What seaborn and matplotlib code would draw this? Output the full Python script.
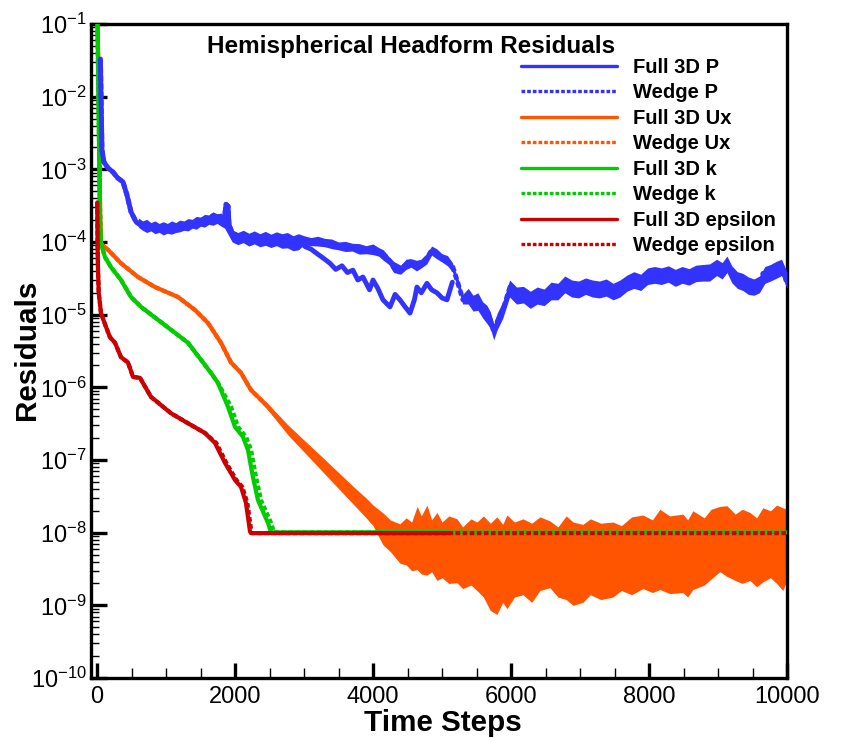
import numpy as np
import pandas as pd
import matplotlib
matplotlib.use("Agg")
import matplotlib.pyplot as plt
import seaborn as sns
from matplotlib.lines import Line2D
from matplotlib.ticker import FixedLocator, MultipleLocator, FuncFormatter, NullFormatter

# ---------------- data ----------------
p_start_x = [50, 72, 100, 160, 230, 300, 377, 435, 493, 565, 630, 695, 770, 840, 910, 985,
             1060, 1130, 1200, 1275, 1350, 1420, 1490, 1565, 1620, 1681, 1740, 1782, 1840,
             1870, 1900, 1913, 1956, 2043, 2130, 2217, 2320, 2434, 2540, 2652, 2720, 2797, 2870, 2941]
p_start_v = [3.3e-2, 1.85e-3, 1.26e-3, 1.04e-3, 9.2e-4, 7.6e-4, 6.7e-4, 4.4e-4, 2.6e-4, 1.9e-4,
             1.72e-4, 1.6e-4, 1.68e-4, 1.5e-4, 1.58e-4, 1.45e-4, 1.55e-4, 1.5e-4, 1.62e-4, 1.6e-4,
             1.75e-4, 1.8e-4, 1.95e-4, 2.1e-4, 2.05e-4, 2.3e-4, 2.15e-4, 2.2e-4, 1.9e-4, 3.3e-4,
             3.1e-4, 1.75e-4, 1.35e-4, 1.2e-4, 1.28e-4, 1.13e-4, 1.2e-4, 1.07e-4, 1.16e-4, 1.1e-4,
             1.02e-4, 1.05e-4, 9.5e-5, 1.0e-4]
p_full_x = [3020, 3100, 3200, 3300, 3376, 3460, 3550, 3630, 3709, 3780, 3854, 3950, 4000, 4070,
            4144, 4246, 4320, 4390, 4460, 4536, 4600, 4637, 4700, 4782, 4850, 4927, 5000, 5072, 5150]
p_full_v = [8.6e-5, 8.0e-5, 6.8e-5, 5.8e-5, 5.1e-5, 4.2e-5, 4.7e-5, 3.8e-5, 4.1e-5, 3.0e-5,
            3.3e-5, 2.2e-5, 3.0e-5, 2.3e-5, 1.6e-5, 1.28e-5, 1.9e-5, 1.6e-5, 1.3e-5, 1.05e-5,
            1.6e-5, 2.4e-5, 2.0e-5, 2.7e-5, 2.2e-5, 2.0e-5, 1.7e-5, 1.6e-5, 2.8e-5]
p_wedge_x = [3020, 3150, 3260, 3376, 3500, 3622, 3740, 3854, 3950, 4057, 4130, 4202, 4270, 4347,
             4434, 4536, 4620, 4724, 4790, 4854, 4930, 5014, 5090, 5158, 5231, 5303, 5380, 5448,
             5520, 5593, 5650, 5700, 5750, 5800, 5883, 5985, 6086, 6180, 6274, 6370, 6463, 6560,
             6650, 6753, 6870, 6999, 7100, 7200, 7289, 7400, 7535, 7650, 7767, 7890, 8013, 8140,
             8259, 8380, 8491, 8620, 8738, 8860, 8984, 9060, 9129, 9200, 9274, 9350, 9419, 9490,
             9564, 9651, 9720, 9796, 9870, 9926, 9990]
p_wedge_v = [1.08e-4, 1.0e-4, 1.03e-4, 9.7e-5, 9.0e-5, 8.5e-5, 8.6e-5, 7.8e-5, 8.0e-5, 7.8e-5,
             6.8e-5, 6.2e-5, 5.0e-5, 3.75e-5, 4.5e-5, 5.3e-5, 4.6e-5, 5.3e-5, 6.2e-5, 7.8e-5,
             6.8e-5, 6.0e-5, 5.4e-5, 4.5e-5, 2.7e-5, 1.6e-5, 1.8e-5, 1.45e-5, 1.5e-5, 1.16e-5,
             1.0e-5, 8.5e-6, 5.8e-6, 8.0e-6, 1.16e-5, 2.4e-5, 1.75e-5, 1.9e-5, 1.6e-5, 1.8e-5,
             1.75e-5, 2.1e-5, 2.0e-5, 2.7e-5, 2.3e-5, 2.2e-5, 2.6e-5, 2.3e-5, 2.2e-5, 2.4e-5,
             2.0e-5, 2.5e-5, 3.0e-5, 2.8e-5, 3.6e-5, 3.3e-5, 3.7e-5, 3.2e-5, 3.5e-5, 3.3e-5,
             3.9e-5, 3.5e-5, 4.5e-5, 4.0e-5, 5.0e-5, 3.6e-5, 3.0e-5, 2.8e-5, 2.4e-5, 2.6e-5,
             2.0e-5, 3.7e-5, 3.4e-5, 4.4e-5, 3.9e-5, 4.5e-5, 2.9e-5]
# noise envelope of the pressure residual
p_env_x = [600, 660, 720, 780, 840, 900, 960, 1020, 1080, 1140, 1200, 1260, 1320, 1380, 1440,
           1500, 1560, 1620, 1680, 1740, 1800, 1850,
           1960, 2040, 2120, 2200, 2280, 2360, 2440, 2520, 2600, 2680, 2760, 2840, 2920,
           3000, 3100, 3200, 3300, 3400, 3500, 3600, 3700, 3800, 3900, 4000, 4080, 4150, 4230,
           4300, 4400, 4480, 4550, 4630, 4700, 4780, 4850, 4920, 5000, 5080, 5150, 5230, 5300,
           5380, 5450, 5520, 5590, 5650, 5700, 5750, 5800, 5880, 5980,
           6080, 6180, 6280, 6380, 6480, 6580, 6680, 6780, 6880, 6980, 7080, 7180, 7280, 7380,
           7480, 7580, 7680, 7780, 7880, 7980, 8080, 8180, 8280, 8380, 8480, 8580, 8680, 8780,
           8880, 8980, 9060, 9130, 9200, 9280, 9360, 9440, 9520, 9600, 9680, 9760, 9840, 9920,
           10000]
p_env_hi = [2.15e-4, 1.95e-4, 2.05e-4, 1.85e-4, 1.95e-4, 1.8e-4, 1.9e-4, 1.8e-4, 1.95e-4,
            1.85e-4, 2.0e-4, 1.95e-4, 2.1e-4, 2.05e-4, 2.25e-4, 2.2e-4, 2.4e-4, 2.35e-4, 2.6e-4,
            2.45e-4, 2.5e-4, 2.2e-4,
            1.45e-4, 1.35e-4, 1.45e-4, 1.32e-4, 1.42e-4, 1.3e-4, 1.4e-4, 1.28e-4, 1.38e-4,
            1.3e-4, 1.35e-4, 1.22e-4, 1.3e-4,
            1.22e-4, 1.15e-4, 1.2e-4, 1.12e-4, 1.1e-4, 1.0e-4, 1.02e-4, 9.6e-5, 9.5e-5, 8.9e-5,
            9.4e-5, 8.4e-5, 7.8e-5, 6.3e-5, 5.4e-5, 4.8e-5, 5.8e-5, 5.9e-5, 5.6e-5, 5.8e-5,
            7.0e-5, 8.8e-5, 8.1e-5, 6.9e-5, 6.5e-5, 5.2e-5, 3.2e-5, 1.9e-5,
            2.3e-5, 1.85e-5, 2.0e-5, 1.5e-5, 1.35e-5, 1.1e-5, 7.5e-6, 1.05e-5, 1.5e-5, 3.0e-5,
            2.4e-5, 2.45e-5, 2.1e-5, 2.4e-5, 2.25e-5, 2.8e-5, 2.7e-5, 3.4e-5, 3.0e-5, 2.9e-5,
            3.2e-5, 3.0e-5, 2.9e-5, 3.1e-5, 2.7e-5, 3.0e-5, 3.5e-5, 3.9e-5, 3.6e-5, 4.4e-5,
            4.6e-5, 4.4e-5, 4.7e-5, 4.2e-5, 4.6e-5, 4.3e-5, 4.8e-5, 4.9e-5, 5.0e-5, 5.8e-5,
            5.2e-5, 6.4e-5, 4.7e-5, 3.9e-5, 3.7e-5, 3.3e-5, 3.1e-5, 3.4e-5, 4.6e-5, 4.9e-5,
            5.4e-5, 5.8e-5, 3.9e-5]
p_env_lo = [1.6e-4, 1.45e-4, 1.35e-4, 1.42e-4, 1.3e-4, 1.36e-4, 1.25e-4, 1.32e-4, 1.28e-4,
            1.35e-4, 1.38e-4, 1.45e-4, 1.42e-4, 1.55e-4, 1.5e-4, 1.65e-4, 1.6e-4, 1.75e-4,
            1.7e-4, 1.8e-4, 1.65e-4, 1.55e-4,
            1.0e-4, 9.2e-5, 9.8e-5, 8.8e-5, 9.4e-5, 8.6e-5, 9.0e-5, 8.4e-5, 8.9e-5, 8.2e-5,
            8.3e-5, 7.6e-5, 7.8e-5,
            9.2e-5, 8.9e-5, 8.8e-5, 8.6e-5, 8.1e-5, 7.8e-5, 7.4e-5, 7.5e-5, 6.8e-5, 6.9e-5,
            6.7e-5, 6.4e-5, 5.6e-5, 4.9e-5, 3.8e-5, 3.6e-5, 4.2e-5, 4.5e-5, 4.0e-5, 4.4e-5,
            5.0e-5, 6.6e-5, 5.9e-5, 5.3e-5, 4.7e-5, 3.9e-5, 2.3e-5, 1.4e-5,
            1.4e-5, 1.12e-5, 1.15e-5, 9.0e-6, 7.6e-6, 6.5e-6, 4.5e-6, 6.2e-6, 8.9e-6, 1.75e-5,
            1.4e-5, 1.45e-5, 1.22e-5, 1.4e-5, 1.33e-5, 1.6e-5, 1.6e-5, 2.0e-5, 1.75e-5, 1.7e-5,
            1.9e-5, 1.75e-5, 1.7e-5, 1.8e-5, 1.6e-5, 1.75e-5, 2.1e-5, 2.3e-5, 2.15e-5, 2.6e-5,
            2.7e-5, 2.6e-5, 2.8e-5, 2.45e-5, 2.7e-5, 2.55e-5, 2.85e-5, 2.9e-5, 2.9e-5, 3.45e-5,
            3.1e-5, 3.8e-5, 2.75e-5, 2.3e-5, 2.15e-5, 1.9e-5, 1.85e-5, 2.0e-5, 2.7e-5, 2.9e-5,
            3.15e-5, 3.45e-5, 2.3e-5]

ux_x = [5, 30, 45, 58, 160, 348, 594, 840, 1174, 1420, 1608, 1797, 1942, 2087, 2231, 2478,
        2768, 3014, 3246, 3492, 3738, 3970, 4173]
ux_v = [0.2, 5e-3, 3e-4, 9.4e-5, 7.8e-5, 5.1e-5, 3.3e-5, 2.4e-5, 1.75e-5, 1.16e-5, 7.7e-6,
        4.1e-6, 2.2e-6, 1.58e-6, 9.2e-7, 5.4e-7, 2.6e-7, 1.5e-7, 9.1e-8, 5.3e-8, 3.1e-8,
        1.87e-8, 1.09e-8]
ux_band_x = [2350, 2478, 2768, 3014, 3246, 3492, 3738, 3900, 4000, 4144, 4250, 4390, 4480, 4560,
             4640, 4700, 4782, 4850, 4927, 5000, 5100, 5216, 5300, 5420, 5506, 5600, 5700, 5796,
             5880, 5941, 6050, 6173, 6300, 6420, 6564, 6680, 6800, 6900, 7042, 7150, 7300, 7477,
             7600, 7750, 7912, 8050, 8158, 8300, 8491, 8560, 8636, 8800, 8900, 9027, 9129, 9250,
             9350, 9462, 9560, 9650, 9760, 9850, 9940, 10000]
ux_band_hi = [7.6e-7, 5.9e-7, 3.03e-7, 1.83e-7, 1.14e-7, 6.84e-8, 4.12e-8, 3.0e-8, 2.4e-8,
              1.87e-8, 1.5e-8, 1.32e-8, 1.6e-8, 1.4e-8, 2.3e-8, 1.7e-8, 2.4e-8, 1.5e-8, 1.9e-8,
              1.4e-8, 1.7e-8, 1.55e-8, 1.2e-8, 1.55e-8, 1.4e-8, 1.7e-8, 1.35e-8, 1.65e-8,
              1.3e-8, 1.75e-8, 1.4e-8, 1.55e-8, 1.35e-8, 1.65e-8, 1.45e-8, 1.2e-8, 1.7e-8,
              1.4e-8, 1.3e-8, 1.55e-8, 1.35e-8, 1.4e-8, 1.25e-8, 1.65e-8, 1.75e-8, 1.5e-8,
              2.1e-8, 1.7e-8, 1.8e-8, 1.5e-8, 2.0e-8, 1.6e-8, 2.1e-8, 2.3e-8, 2.35e-8, 1.8e-8,
              2.1e-8, 1.9e-8, 1.6e-8, 2.2e-8, 2.0e-8, 2.4e-8, 2.2e-8, 2.1e-8]
ux_band_lo = [6.8e-7, 4.88e-7, 2.21e-7, 1.25e-7, 7.3e-8, 4.12e-8, 2.33e-8, 1.6e-8, 1.25e-8,
              6.8e-9, 5.5e-9, 3.8e-9, 3.6e-9, 3.0e-9, 3.1e-9, 2.7e-9, 2.6e-9, 2.9e-9, 2.2e-9,
              2.4e-9, 2.0e-9, 2.05e-9, 1.7e-9, 1.9e-9, 1.6e-9, 1.3e-9, 8.5e-10, 7.5e-10,
              1.1e-9, 9.0e-10, 1.3e-9, 1.4e-9, 1.1e-9, 1.6e-9, 1.75e-9, 1.3e-9, 1.2e-9,
              1.0e-9, 1.1e-9, 1.4e-9, 1.2e-9, 1.3e-9, 1.6e-9, 1.4e-9, 1.7e-9, 1.5e-9,
              1.65e-9, 1.45e-9, 1.5e-9, 1.3e-9, 1.65e-9, 1.9e-9, 2.3e-9, 2.9e-9, 2.5e-9, 2.2e-9,
              2.0e-9, 2.2e-9, 1.8e-9, 2.1e-9, 2.4e-9, 2.0e-9, 1.6e-9, 2.2e-9]

k_full_x = [3, 30, 45, 58, 116, 203, 348, 493, 638, 1072, 1319, 1652, 1753, 1898, 2000, 2116,
            2188, 2260, 2333, 2478, 2522, 5100]
k_wedge_x = [3, 30, 45, 58, 116, 203, 348, 493, 638, 1072, 1319, 1652, 1753, 1943, 2045, 2161,
             2233, 2305, 2378, 2523, 2567, 10000]
k_v = [0.2, 2e-3, 1.6e-4, 9.4e-5, 6.2e-5, 4.5e-5, 3.0e-5, 1.75e-5, 1.28e-5, 6.2e-6, 4.1e-6,
       1.58e-6, 1.15e-6, 5.4e-7, 2.85e-7, 2.08e-7, 1.37e-7, 5.8e-8, 2.8e-8, 1.36e-8, 1.01e-8,
       1.01e-8]

e_full_x = [3, 8, 15, 25, 58, 130, 188, 261, 348, 449, 522, 623, 782, 1072, 1319, 1565, 1710,
            1855, 2000, 2087, 2159, 2217, 2231, 5100]
e_wedge_x = [3, 8, 15, 25, 58, 130, 188, 261, 348, 449, 522, 623, 782, 1072, 1319, 1565, 1730,
             1875, 2020, 2107, 2179, 2237, 2251, 10000]
e_v = [3.5e-4, 1e-4, 4e-5, 2e-5, 1.05e-5, 6.8e-6, 4.9e-6, 4.1e-6, 2.6e-6, 2.2e-6, 1.39e-6,
       1.35e-6, 7.4e-7, 4.4e-7, 3.2e-7, 2.35e-7, 1.71e-7, 9.1e-8, 5.3e-8, 4.25e-8, 2.56e-8,
       1.04e-8, 9.85e-9, 9.85e-9]

legend_labels = ["Full 3D P", "Wedge P", "Full 3D Ux", "Wedge Ux",
                 "Full 3D k", "Wedge k", "Full 3D epsilon", "Wedge epsilon"]
title_text = "Hemispherical Headform Residuals"
y_exponents = [-10, -9, -8, -7, -6, -5, -4, -3, -2, -1]

BLUE, ORANGE, GREEN, RED = "#3333FF", "#FF5500", "#00CC00", "#CC0000"

# ---------------- figure ----------------
sns.set_style("white")
plt.rcParams['font.family'] = ['Liberation Sans', 'DejaVu Sans']
plt.rcParams['mathtext.fontset'] = 'custom'
plt.rcParams['mathtext.rm'] = 'Liberation Sans'
plt.rcParams['mathtext.it'] = 'Liberation Sans'
plt.rcParams['mathtext.bf'] = 'Liberation Sans:bold'
for key in ['text.color', 'axes.labelcolor', 'xtick.color', 'ytick.color', 'axes.edgecolor']:
    plt.rcParams[key] = 'black'

fig = plt.figure(figsize=(8.46, 7.38), dpi=100)
ax = fig.add_axes([91/846, 1-678/738, 696/846, 654/738])
ax.set_yscale('log')

DOT = (0, (1.1, 0.6))
LW = 3.0

def draw(x, y, color, ls='-', lw=LW, z=2):
    sns.lineplot(x=np.asarray(x, float), y=np.asarray(y, float), ax=ax, color=color,
                 linestyle=ls, linewidth=lw, estimator=None, errorbar=None, sort=False,
                 zorder=z, legend=False)

ax.fill_between(ux_band_x, ux_band_lo, ux_band_hi, color=ORANGE, lw=0, zorder=2)
draw(ux_x, ux_v, ORANGE, '-', z=2)
draw(ux_x, ux_v, ORANGE, DOT, z=2)
draw(k_full_x, k_v, GREEN, '-', z=3)
draw(k_wedge_x, k_v, GREEN, DOT, z=3)
draw(e_full_x, e_v, RED, '-', z=4)
draw(e_wedge_x, e_v, RED, DOT, z=4)
ax.fill_between(p_env_x, p_env_lo, p_env_hi, color=BLUE, lw=0, zorder=5)
draw(p_start_x + p_full_x, p_start_v + p_full_v, BLUE, '-', lw=3.5, z=5)
draw(p_start_x + p_wedge_x, p_start_v + p_wedge_v, BLUE, DOT, lw=3.5, z=5)

ax.set_xlim(-87, 10000)
ax.set_ylim(1e-10, 1e-1)

major_y = [10.0 ** e for e in y_exponents]
minor_y = [m * 10.0 ** e for e in y_exponents[:-1] for m in range(2, 10)]
ax.xaxis.set_major_locator(MultipleLocator(2000))
ax.xaxis.set_minor_locator(MultipleLocator(500))
ax.yaxis.set_major_locator(FixedLocator(major_y))
ax.yaxis.set_minor_locator(FixedLocator(minor_y))
ax.yaxis.set_minor_formatter(NullFormatter())
ax.yaxis.set_major_formatter(FuncFormatter(lambda v, p: r'$10^{%d}$' % int(round(np.log10(v)))))
ax.xaxis.set_major_formatter(FuncFormatter(lambda v, p: '%d' % int(round(v))))

ax.tick_params(axis='both', which='both', direction='in', top=False, right=False,
               bottom=True, left=True, colors='black')
ax.tick_params(axis='y', which='major', length=11.5, width=2.4, labelsize=17, pad=3)
ax.tick_params(axis='y', which='minor', length=6, width=1.0)
ax.tick_params(axis='x', which='major', length=11, width=2.4, labelsize=17, pad=6)
ax.tick_params(axis='x', which='minor', length=7, width=1.0)
for s in ax.spines.values():
    s.set_linewidth(2.4)
    s.set_color('black')
    s.set_visible(True)

ax.set_xlabel("Time Steps", fontsize=21.3, fontweight='bold')
ax.set_ylabel("Residuals", fontsize=21.3, fontweight='bold')
ax.xaxis.label.set_va('baseline')
ax.xaxis.set_label_coords((443-91)/696, (678-731)/654)
ax.yaxis.set_label_coords((41-91)/696, (678-350)/654)

fig.text(411/846, 1-53.3/738, title_text, ha='center', va='baseline',
         fontsize=17.5, fontweight='bold')

styles = [(BLUE, '-'), (BLUE, DOT), (ORANGE, '-'), (ORANGE, DOT),
          (GREEN, '-'), (GREEN, DOT), (RED, '-'), (RED, DOT)]
handles = [Line2D([], [], color=c, lw=2.4, linestyle=ls) for c, ls in styles]
ax.legend(handles, legend_labels, loc='upper left',
          bbox_to_anchor=(521/846, 1-58/738), bbox_transform=fig.transFigure,
          frameon=False, prop={'weight': 'bold', 'size': 14.5},
          handlelength=4.77, handletextpad=0.8, labelspacing=0.32,
          borderpad=0, borderaxespad=0)

fig.savefig("out.png", dpi=100)
